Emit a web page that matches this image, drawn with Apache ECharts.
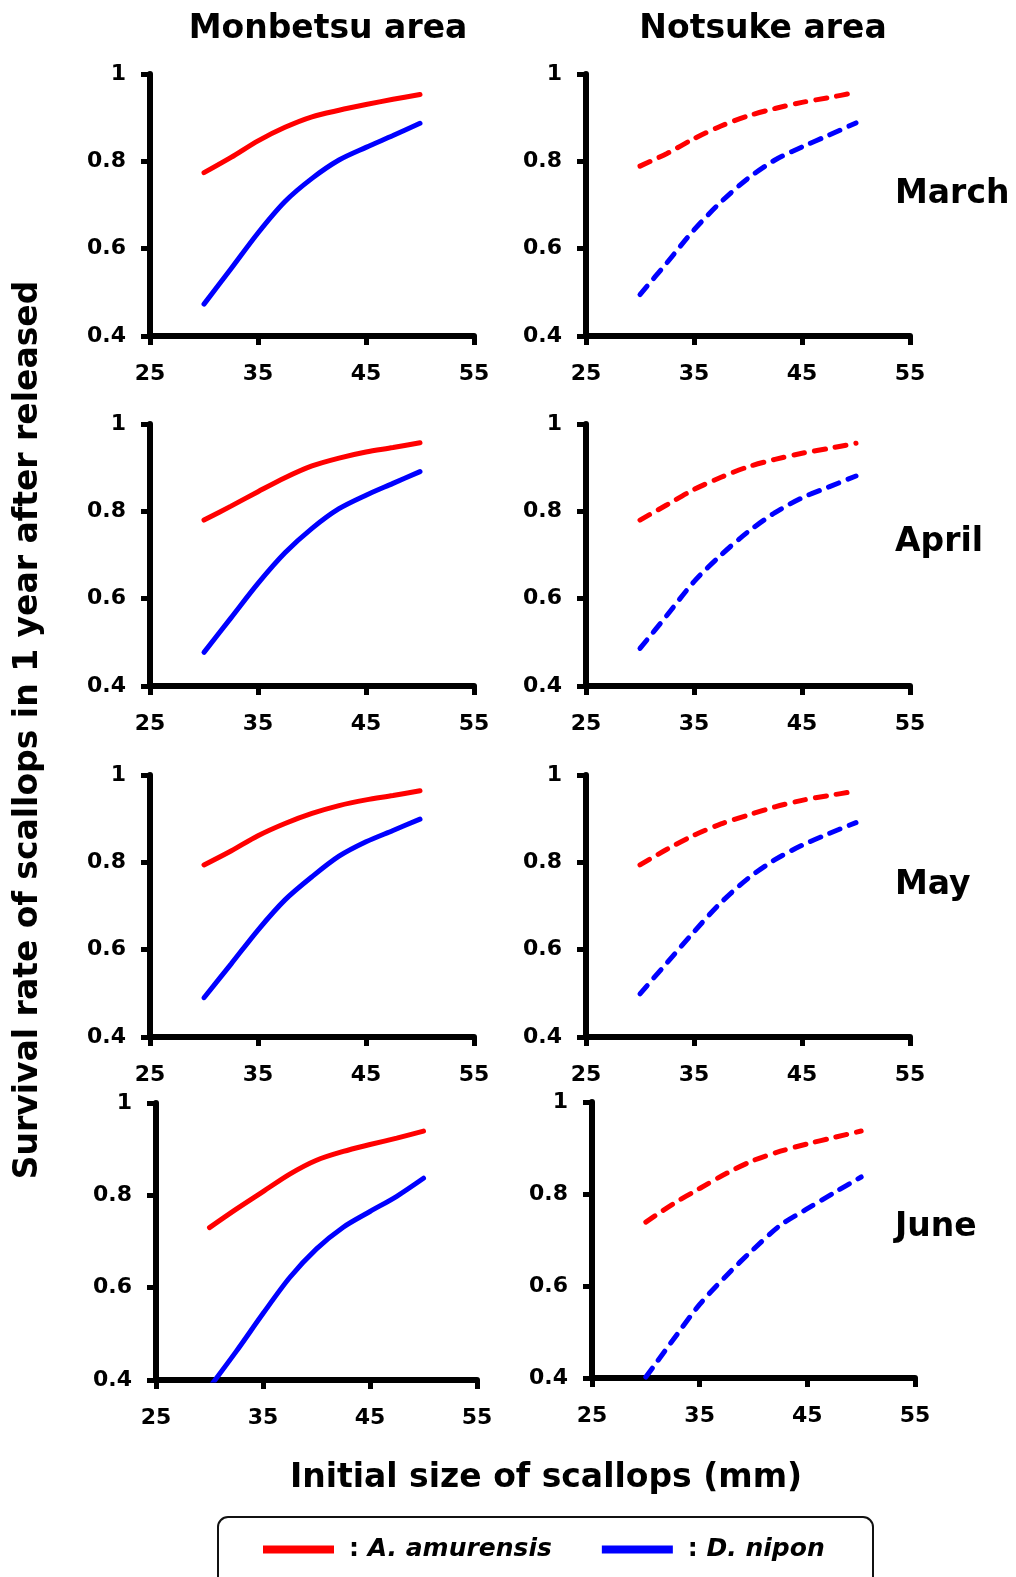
<!DOCTYPE html>
<html>
<head>
<meta charset="utf-8">
<script src="https://cdn.jsdelivr.net/npm/echarts@6/dist/echarts.min.js"></script>
<style>
  html, body { margin: 0; padding: 0; background: #fff; }
  #chart { width: 1016px; height: 1577px; }
</style>
</head>
<body>
<div id="chart"></div>
<script>
// ---------------- DATA ----------------
const areas = ['Monbetsu area', 'Notsuke area'];
const months = ['March', 'April', 'May', 'June'];
const speciesNames = ['A. amurensis', 'D. nipon'];
const sizes = [30, 32.5, 35, 37.5, 40, 42.5, 45, 47.5, 50];
const xTicks = [25, 35, 45, 55];
const yTickLabels = ['0.4', '0.6', '0.8', '1'];

// Monbetsu area (solid lines)
const monbetsuAmurMarch = [0.774, 0.809, 0.847, 0.878, 0.902, 0.917, 0.930, 0.942, 0.953];
const monbetsuNipoMarch = [0.473, 0.554, 0.636, 0.708, 0.761, 0.803, 0.832, 0.859, 0.887];
const monbetsuAmurApril = [0.780, 0.812, 0.845, 0.877, 0.904, 0.922, 0.936, 0.946, 0.957];
const monbetsuNipoApril = [0.477, 0.556, 0.635, 0.705, 0.761, 0.806, 0.837, 0.864, 0.891];
const monbetsuAmurMay   = [0.794, 0.826, 0.861, 0.889, 0.912, 0.930, 0.943, 0.953, 0.964];
const monbetsuNipoMay   = [0.490, 0.567, 0.645, 0.714, 0.767, 0.814, 0.847, 0.873, 0.899];
const monbetsuAmurJune  = [0.730, 0.770, 0.808, 0.846, 0.876, 0.895, 0.910, 0.924, 0.939];
const monbetsuNipoJune  = [0.384, 0.462, 0.544, 0.622, 0.684, 0.731, 0.765, 0.798, 0.837];

// Notsuke area (dashed lines)
const notsukeAmurMarch = [0.789, 0.818, 0.852, 0.881, 0.904, 0.921, 0.935, 0.946, 0.958];
const notsukeNipoMarch = [0.495, 0.568, 0.643, 0.707, 0.761, 0.803, 0.833, 0.860, 0.888];
const notsukeAmurApril = [0.780, 0.815, 0.850, 0.878, 0.902, 0.919, 0.933, 0.944, 0.956];
const notsukeNipoApril = [0.486, 0.562, 0.639, 0.700, 0.753, 0.797, 0.831, 0.856, 0.881];
const notsukeAmurMay   = [0.794, 0.830, 0.862, 0.888, 0.908, 0.927, 0.942, 0.953, 0.963];
const notsukeNipoMay   = [0.499, 0.570, 0.641, 0.708, 0.763, 0.806, 0.839, 0.866, 0.891];
const notsukeAmurJune  = [0.739, 0.778, 0.812, 0.845, 0.873, 0.893, 0.909, 0.923, 0.937];
const notsukeNipoJune  = [0.402, 0.482, 0.560, 0.623, 0.680, 0.732, 0.768, 0.803, 0.837];

// ---------------- LAYOUT ----------------
const FONT = '"DejaVu Sans", "Liberation Sans", Arial, sans-serif';
const RED = '#ff0000', BLUE = '#0000ff';

const panels = [
  { g: [150, 74, 324, 262],  red: monbetsuAmurMarch, blue: monbetsuNipoMarch, dashed: false },
  { g: [586, 74, 324, 262],  red: notsukeAmurMarch,  blue: notsukeNipoMarch,  dashed: true },
  { g: [150, 424, 324, 262], red: monbetsuAmurApril, blue: monbetsuNipoApril, dashed: false },
  { g: [586, 424, 324, 262], red: notsukeAmurApril,  blue: notsukeNipoApril,  dashed: true },
  { g: [150, 775, 324, 262], red: monbetsuAmurMay,   blue: monbetsuNipoMay,   dashed: false },
  { g: [586, 775, 324, 262], red: notsukeAmurMay,    blue: notsukeNipoMay,    dashed: true },
  { g: [156, 1103, 321, 277], red: monbetsuAmurJune, blue: monbetsuNipoJune,  dashed: false },
  { g: [592, 1102, 323, 276], red: notsukeAmurJune,  blue: notsukeNipoJune,   dashed: true }
];

const grids = [], xAxes = [], yAxes = [], series = [];
const axisLine = { show: true, lineStyle: { color: '#000', width: 6 } };
const axisTick = { show: true, length: 9, lineStyle: { color: '#000', width: 5 } };
const labelStyle = { color: '#000', fontFamily: FONT, fontWeight: 'bold', fontSize: 22 };

panels.forEach((p, i) => {
  grids.push({ left: p.g[0], top: p.g[1], width: p.g[2], height: p.g[3], containLabel: false });
  xAxes.push({
    type: 'value', gridIndex: i, min: xTicks[0], max: xTicks[xTicks.length - 1], interval: 10,
    axisLine, axisTick, splitLine: { show: false },
    axisLabel: Object.assign({ margin: 27 }, labelStyle)
  });
  yAxes.push({
    type: 'value', gridIndex: i, min: 0.4, max: 1, interval: 0.2,
    axisLine, axisTick, splitLine: { show: false },
    axisLabel: Object.assign({
      margin: 24,
      formatter: v => yTickLabels[Math.round((v - 0.4) / 0.2)]
    }, labelStyle)
  });
  [[p.red, RED, speciesNames[0]], [p.blue, BLUE, speciesNames[1]]].forEach(([vals, col, nm]) => {
    series.push({
      type: 'line', name: nm, xAxisIndex: i, yAxisIndex: i,
      data: sizes.map((s, k) => [s, vals[k]]),
      smooth: 0.3, symbol: 'none', clip: true,
      color: col,
      lineStyle: {
        color: col, width: 5, cap: 'round',
        type: p.dashed ? [11, 10] : 'solid'
      }
    });
  });
});

const textEl = (txt, x, y, size, extra) => Object.assign({
  type: 'text', x, y,
  style: {
    text: txt, font: 'bold ' + size + 'px ' + FONT, fill: '#000',
    textAlign: 'center', textVerticalAlign: 'middle'
  }
}, extra || {});

const monthY = [194, 542, 885, 1227];
const graphic = [
  textEl(areas[0], 328, 29, 33),
  textEl(areas[1], 763, 29, 33),
  textEl('Survival rate of scallops in 1 year after released', 28, 730, 33, { rotation: Math.PI / 2 }),
  textEl('Initial size of scallops (mm)', 546, 1478, 33),
  {
    type: 'rect', shape: { x: 218, y: 1517, width: 655, height: 90, r: 10 },
    style: { fill: 'none', stroke: '#111', lineWidth: 2 }
  }
];
months.forEach((m, i) => {
  const el = textEl(m, 895, monthY[i], 33);
  el.style.textAlign = 'left';
  graphic.push(el);
});

const option = {
  animation: false,
  backgroundColor: '#fff',
  grid: grids,
  xAxis: xAxes,
  yAxis: yAxes,
  series,
  legend: {
    data: speciesNames,
    left: 263, top: 1537, padding: 0,
    itemWidth: 71, itemHeight: 8, itemGap: 50,
    icon: 'rect',
    formatter: n => '{c|:} {i|' + n + '}',
    textStyle: {
      color: '#000', fontFamily: FONT, fontWeight: 'bold', fontSize: 25,
      rich: {
        c: { color: '#000', fontFamily: FONT, fontWeight: 'bold', fontSize: 25, padding: [0, 0, 0, 10] },
        i: { color: '#000', fontFamily: FONT, fontWeight: 'bold', fontStyle: 'italic', fontSize: 25 }
      }
    }
  },
  graphic
};

const chart = echarts.init(document.getElementById('chart'), null, { renderer: 'canvas' });
chart.setOption(option);
</script>
</body>
</html>
